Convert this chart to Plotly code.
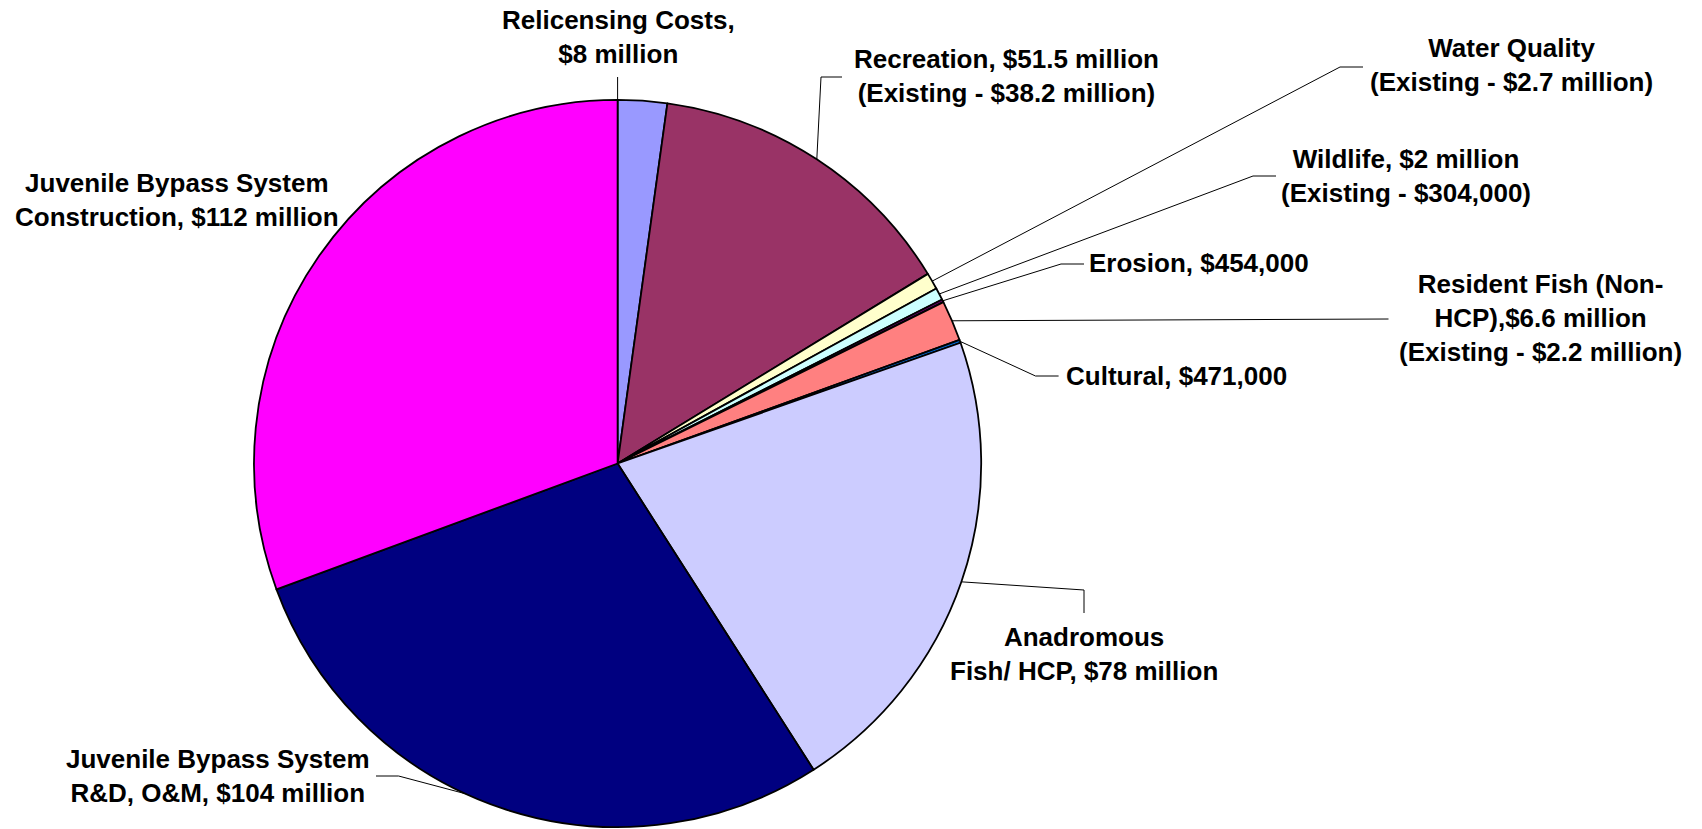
import math
import plotly.graph_objects as go

# ---------------- data ----------------
categories = [
    "Relicensing Costs",
    "Recreation",
    "Water Quality",
    "Wildlife",
    "Erosion",
    "Resident Fish (Non-HCP)",
    "Cultural",
    "Anadromous Fish/ HCP",
    "Juvenile Bypass System R&D, O&M",
    "Juvenile Bypass System Construction",
]
values_million = [8, 51.5, 2.7, 2, 0.454, 6.6, 0.471, 78, 104, 112]
label_texts = [
    "Relicensing Costs,<br>$8 million",
    "Recreation, $51.5 million<br>(Existing - $38.2 million)",
    "Water Quality<br>(Existing - $2.7 million)",
    "Wildlife, $2 million<br>(Existing - $304,000)",
    "Erosion, $454,000",
    "Resident Fish (Non-<br>HCP),$6.6 million<br>(Existing - $2.2 million)",
    "Cultural, $471,000",
    "Anadromous<br>Fish/ HCP, $78 million",
    "Juvenile Bypass System<br>R&D, O&M, $104 million",
    "Juvenile Bypass System<br>Construction, $112 million",
]

# ---------------- style / layout ----------------
colors = ["#9999FF", "#993366", "#FFFFCC", "#CCFFFF", "#660066",
          "#FF8080", "#0066CC", "#CCCCFF", "#000080", "#FF00FF"]
W, H = 1702, 829
CX, CY, R = 617.6, 463.5, 363.6          # pie centre / radius in pixels
FONT = dict(family="Liberation Sans, Arial, sans-serif", size=26, color="black", weight="bold")

# label centre positions (pixels) and leader-line start/elbow points
label_pos = [(618, 36.5), (1006, 75.5), (1511, 65), (1406, 175.5), (1199, 263),
             (1540, 318), (1176, 376), (1084, 653.5), (218, 776), (177, 199.5)]
leader_pts = [
    [(617.6, 77)],
    [(842, 77), (821, 77)],
    [(1363, 67), (1340, 67)],
    [(1276, 176), (1253, 176)],
    [(1084, 264), (1061, 264)],
    [(1388.5, 319)],
    [(1058.6, 376), (1035.5, 376)],
    [(1084, 613), (1084, 590)],
    [(376, 776), (398.6, 776)],
    None,
]
anchor_frac = [0.0, 0.5, 0.5, 0.5, 0.5, 0.5, 0.5, 0.5, 0.56, 0.5]

fig = go.Figure()

fig.add_trace(go.Pie(
    labels=categories,
    values=values_million,
    sort=False,
    direction="clockwise",
    rotation=0,
    marker=dict(colors=colors, line=dict(color="black", width=1.8)),
    textinfo="none",
    hoverinfo="label+value",
    showlegend=False,
    domain=dict(x=[(CX - R) / W, (CX + R) / W], y=[1 - (CY + R) / H, 1 - (CY - R) / H]),
))

# leader lines: end point on the slice computed from the data
total = sum(values_million)
cum = 0.0
for i, v in enumerate(values_million):
    a0 = cum / total * 360
    a1 = (cum + v) / total * 360
    cum += v
    pts = leader_pts[i]
    if pts is None:
        continue
    ang = math.radians(a0 + anchor_frac[i] * (a1 - a0))
    ex = CX + R * math.sin(ang)
    ey = CY - R * math.cos(ang)
    xs = [p[0] for p in pts] + [ex]
    ys = [p[1] for p in pts] + [ey]
    fig.add_trace(go.Scatter(x=xs, y=ys, mode="lines", line=dict(color="black", width=1),
                             hoverinfo="skip", showlegend=False))

for txt, (lx, ly) in zip(label_texts, label_pos):
    fig.add_annotation(x=lx, y=ly, xref="x", yref="y", text=txt, showarrow=False,
                       xanchor="center", yanchor="middle", align="center", font=FONT)

fig.update_layout(
    width=W, height=H,
    margin=dict(l=0, r=0, t=0, b=0),
    paper_bgcolor="white", plot_bgcolor="rgba(0,0,0,0)",
    xaxis=dict(range=[0, W], visible=False, fixedrange=True),
    yaxis=dict(range=[H, 0], visible=False, fixedrange=True),
    showlegend=False,
)

fig.write_html("out.html", config={"displayModeBar": False},
               post_script="document.body.style.margin='0px';")
